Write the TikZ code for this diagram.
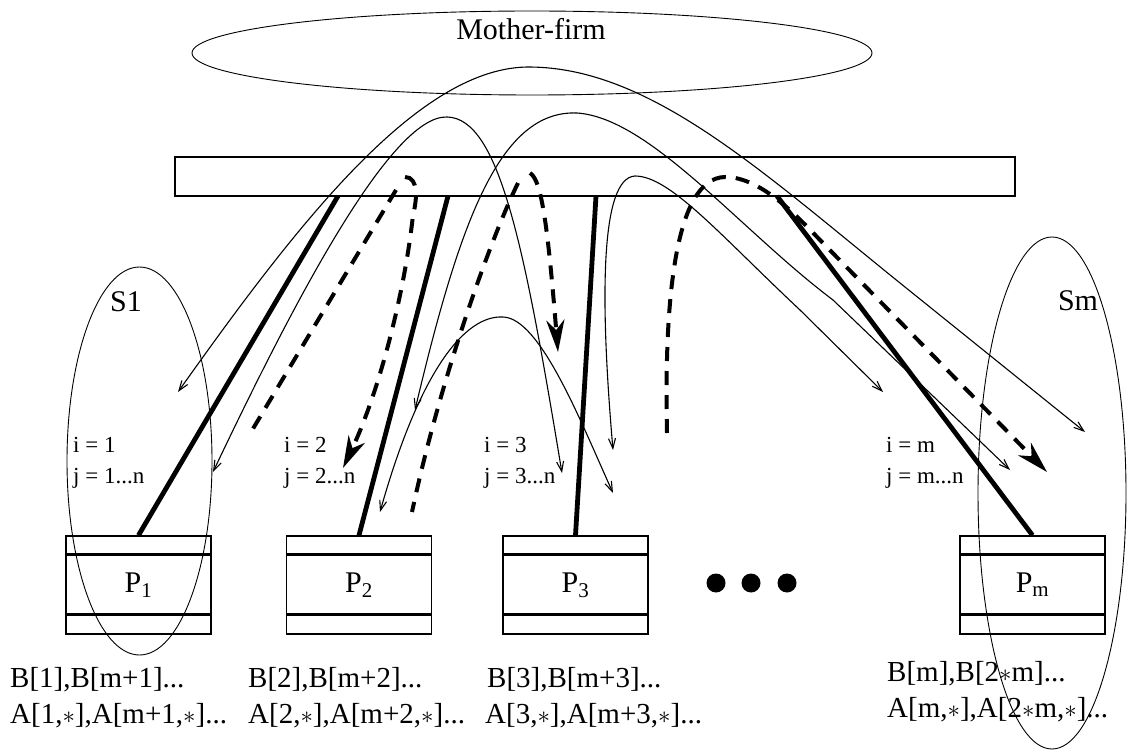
\documentclass[tikz,border=0pt]{standalone}
\usepackage{fontspec}
\setmainfont{Liberation Serif}
\usetikzlibrary{arrows.meta, shapes.geometric, positioning}

\tikzset{
    groupell/.style={ellipse, draw, line width=0.9pt, inner sep=0pt},
    procbox/.style={
        draw, line width=1.4pt, inner sep=0pt,
        minimum width=145pt, minimum height=98pt,
        font=\fontsize{30}{30}\selectfont,
        path picture={
            \draw[line width=3pt] ([yshift=-18pt]path picture bounding box.north west) -- ([yshift=-18pt]path picture bounding box.north east);
            \draw[line width=3pt] ([yshift=20pt]path picture bounding box.south west) -- ([yshift=20pt]path picture bounding box.south east);
            \draw[line width=3pt] (path picture bounding box.south west) -- (path picture bounding box.south east);
        }
    },
    bigtxt/.style={inner sep=0pt, font=\fontsize{30}{30}\selectfont},
    idxtxt/.style={inner sep=0pt, anchor=base west, font=\fontsize{23}{23}\selectfont},
    datatxt/.style={inner sep=0pt, anchor=base west, font=\fontsize{29}{29}\selectfont},
    dot/.style={circle, fill, minimum size=19pt, inner sep=0pt},
    solidlink/.style={line width=4.8pt},
    dashlink/.style={line width=4pt, dash pattern=on 14pt off 10pt},
    bighead/.style={-{Stealth[length=32pt,width=18pt,inset=10pt]}},
    thinlink/.style={line width=1.1pt, {Straight Barb[length=10pt,width=7pt]}-{Straight Barb[length=10pt,width=7pt]}}
}

\begin{document}
\begin{tikzpicture}[x=1pt, y=-1pt]
    \useasboundingbox (0,0) rectangle (1143,751);

    % mother firm and bus
    \node[groupell, minimum width=680pt, minimum height=84pt] (mother) at (532,53) {};
    \node[bigtxt] (mothertxt) at (531,29) {Mother-firm};
    \node[draw, line width=1.3pt, minimum width=840pt, minimum height=39pt, inner sep=0pt] (bar) at (595,176.5) {};

    % processors
    \node[procbox] (P1) at (138.5,585) {P\textsubscript{1}};
    \node[procbox] (P2) at (359,585) {P\textsubscript{2}};
    \node[procbox] (P3) at (575.5,585) {P\textsubscript{3}};
    \node[procbox] (Pm) at (1032.5,585) {P\textsubscript{m}};
    \foreach \x [count=\k] in {716,751,787}
        \node[dot] (dot\k) at (\x,583) {};

    % sets S1 and Sm
    \node[groupell, minimum width=145pt, minimum height=388pt] (S1) at (139.5,461) {};
    \node[bigtxt] (S1txt) at (126,302) {S1};
    \node[groupell, minimum width=148pt, minimum height=512pt] (Sm) at (1052,493) {};
    \node[bigtxt] (Smtxt) at (1078,301) {Sm};

    % index ranges
    \foreach \x/\k in {73/1, 284/2, 484/3, 886/m} {
        \node[idxtxt] (i\k) at (\x,452) {i = \k};
        \node[idxtxt] (j\k) at (\x,483) {j = \k...n};
    }

    % data held by each processor
    \node[datatxt] (B1) at (10,687) {B[1],B[m+1]...};
    \node[datatxt] (A1) at (10,723) {A[1,$\ast$],A[m+1,$\ast$]...};
    \node[datatxt] (B2) at (248,687) {B[2],B[m+2]...};
    \node[datatxt] (A2) at (248,723) {A[2,$\ast$],A[m+2,$\ast$]...};
    \node[datatxt] (B3) at (487,687) {B[3],B[m+3]...};
    \node[datatxt] (A3) at (485,723) {A[3,$\ast$],A[m+3,$\ast$]...};
    \node[datatxt] (Bm) at (887,681) {B[m],B[2$\ast$m]...};
    \node[datatxt] (Am) at (887,717) {A[m,$\ast$],A[2$\ast$m,$\ast$]...};

    % links from the bus
    \coordinate (t1) at (338,196);
    \coordinate (t2) at (448,196);
    \coordinate (t3) at (596,196);
    \coordinate (t4) at (777,196);
    \draw[solidlink] (t1) -- (P1.north);
    \draw[solidlink] (t2) -- (P2.north);
    \draw[solidlink] (t3) -- (P3.north);
    \draw[solidlink] (t4) -- (Pm.north);

    % dashed transfers
    \coordinate (d1s) at (405,177);  \coordinate (d1e) at (343,468);
    \coordinate (d2s) at (396,190);  \coordinate (d2e) at (248,437);
    \coordinate (d3s) at (518,183);  \coordinate (d3e) at (412,512);
    \coordinate (d4s) at (530,173);  \coordinate (d4e) at (558,352);
    \coordinate (d5s) at (667,433);  \coordinate (d5e) at (1047,472);
    \draw[dashlink, bighead] (d1s) .. controls (419,177) and (417,200) .. (413,215) .. controls (405,290) and (380,390) .. (d1e);
    \draw[dashlink] (d2s) -- (d2e);
    \draw[dashlink] (d3s) .. controls (490,240) and (440,380) .. (d3e);
    \draw[dashlink, bighead] (d4s) .. controls (542,180) and (548,230) .. (d4e);
    \draw[dashlink, bighead] (d5s) .. controls (664,300) and (675,178) .. (725,177) .. controls (760,177) and (795,214) .. (820,240) -- (d5e);

    % thin messages
    \coordinate (a1s) at (178,392);  \coordinate (a1e) at (1085,432);
    \coordinate (a2s) at (213,472);  \coordinate (a2e) at (562,473);
    \coordinate (a3s) at (415,410);  \coordinate (a3e) at (1010,470);
    \coordinate (a5s) at (380,512);  \coordinate (a5e) at (613,493);
    \coordinate (a6s) at (613,450);  \coordinate (a6e) at (883,392);
    \draw[thinlink] (a1s) .. controls (300,220) and (420,66) .. (530,67) .. controls (650,68) and (760,170) .. (900,283) -- (a1e);
    \draw[thinlink] (a2s) .. controls (290,310) and (390,115) .. (447,117) .. controls (500,118) and (525,250) .. (a2e);
    \draw[thinlink] (a3s) .. controls (460,220) and (500,110) .. (577,113) .. controls (650,118) and (740,230) .. (833,300) -- (a3e);
    \draw[thinlink] (a5s) .. controls (420,370) and (465,315) .. (503,317) .. controls (540,318) and (580,420) .. (a5e);
    \draw[thinlink] (a6s) .. controls (600,300) and (600,178) .. (635,176) .. controls (670,176) and (720,235) .. (800,310) -- (a6e);
\end{tikzpicture}
\end{document}
